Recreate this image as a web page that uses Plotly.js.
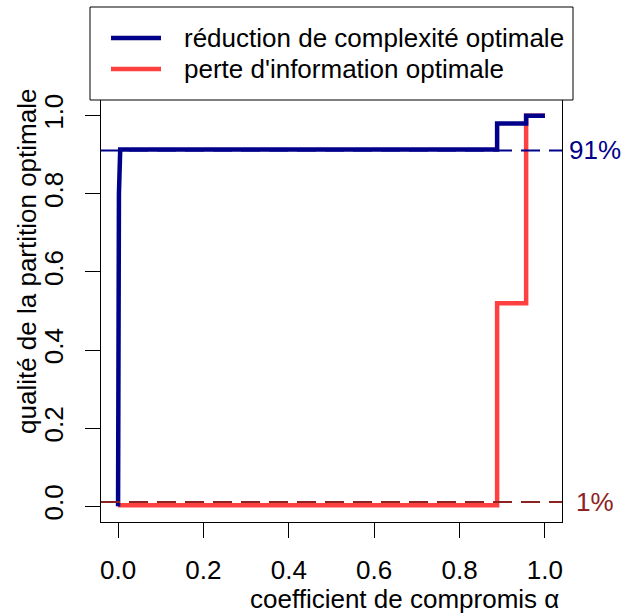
<!DOCTYPE html>
<html>
<head>
<meta charset="utf-8">
<script src="https://cdn.plot.ly/plotly-3.0.1.min.js"></script>
<style>html,body{margin:0;padding:0;background:#fff;}#chart{width:622px;height:613px;}</style>
</head>
<body>
<div id="chart"></div>
<script>
// ---- data ----
const seriesNames = ["réduction de complexité optimale", "perte d'information optimale"];
const blueAlpha = [0, 0.002, 0.005, 0.888, 0.888, 0.956, 0.956, 1.0];
const blueQuality = [0, 0.80, 0.913, 0.913, 0.98, 0.98, 1.0, 1.0];
const redAlpha = [0, 0.888, 0.888, 0.956, 0.956, 1.0];
const redQuality = [0.003, 0.003, 0.52, 0.52, 1.0, 1.0];
const refLevels = [0.911, 0.011];
const refLabels = ["91%", "1%"];
const tickVals = [0, 0.2, 0.4, 0.6, 0.8, 1.0];
const tickText = ["0.0", "0.2", "0.4", "0.6", "0.8", "1.0"];
const xTitle = "coefficient de compromis α";
const yTitle = "qualité de la partition optimale";

// ---- styling ----
const W = 622, H = 613;
const M = {l: 101, r: 60, t: 100, b: 91};
const PW = W - M.l - M.r, PH = H - M.t - M.b;
const px = X => (X - M.l) / PW;
const py = Y => (H - M.b - Y) / PH;
const FONT = "Liberation Sans, Arial, sans-serif";
const blue = "#00008B", red = "#FF4040";
const refColors = ["#00008B", "#8B2323"];
const FS = 26;

const traces = [
  {x: redAlpha, y: redQuality, mode: "lines", name: seriesNames[1], line: {color: red, width: 4.5}, showlegend: false},
  {x: blueAlpha, y: blueQuality, mode: "lines", name: seriesNames[0], line: {color: blue, width: 4.5}, showlegend: false}
];

const shapes = [];
refLevels.forEach((v, i) => {
  shapes.push({type: "line", xref: "paper", yref: "y", x0: 0, x1: 1, y0: v, y1: v,
    line: {color: refColors[i], width: 2, dash: "19px,9px"}, layer: "above"});
});
// legend box
shapes.push({type: "rect", xref: "paper", yref: "paper", x0: px(90), x1: px(573), y0: py(100), y1: py(7),
  line: {color: "black", width: 1}, fillcolor: "white", layer: "above"});
const legY = [38, 69];
const legCol = [blue, red];
legY.forEach((Y, i) => {
  shapes.push({type: "line", xref: "paper", yref: "paper", x0: px(111), x1: px(161), y0: py(Y), y1: py(Y),
    line: {color: legCol[i], width: 4.5}, layer: "above"});
});

const annotations = [];
seriesNames.forEach((n, i) => {
  annotations.push({xref: "paper", yref: "paper", x: px(182), y: py(legY[i]), text: n, showarrow: false,
    xanchor: "left", yanchor: "middle", font: {family: FONT, size: FS, color: "black"}});
});
refLevels.forEach((v, i) => {
  annotations.push({xref: "paper", yref: "y", x: px(595), y: v, text: refLabels[i], showarrow: false,
    xanchor: "center", yanchor: "middle", font: {family: FONT, size: FS, color: refColors[i]}});
});
annotations.push({xref: "paper", yref: "paper", x: px(561), y: py(599), text: xTitle, showarrow: false,
  xanchor: "right", yanchor: "middle", font: {family: FONT, size: FS, color: "black"}});
annotations.push({xref: "paper", yref: "paper", x: px(27), y: py(262), text: yTitle, showarrow: false,
  textangle: -90, xanchor: "center", yanchor: "middle", font: {family: FONT, size: FS, color: "black"}});

const axisCommon = {
  showgrid: false, zeroline: false, showline: true, mirror: true, linecolor: "black", linewidth: 1,
  ticks: "outside", ticklen: 15, tickwidth: 1, tickcolor: "black",
  tickmode: "array", tickvals: tickVals, ticktext: tickText,
  tickfont: {family: FONT, size: FS, color: "black"}, fixedrange: true
};

const layout = {
  width: W, height: H, margin: M,
  paper_bgcolor: "white", plot_bgcolor: "white",
  xaxis: Object.assign({}, axisCommon, {range: [-0.04, 1.04], ticklabelstandoff: 10}),
  yaxis: Object.assign({}, axisCommon, {range: [-0.04, 1.04], tickangle: -90, ticklabelstandoff: 12}),
  shapes: shapes, annotations: annotations, showlegend: false
};

Plotly.newPlot("chart", traces, layout, {displayModeBar: false, staticPlot: true});
</script>
</body>
</html>
